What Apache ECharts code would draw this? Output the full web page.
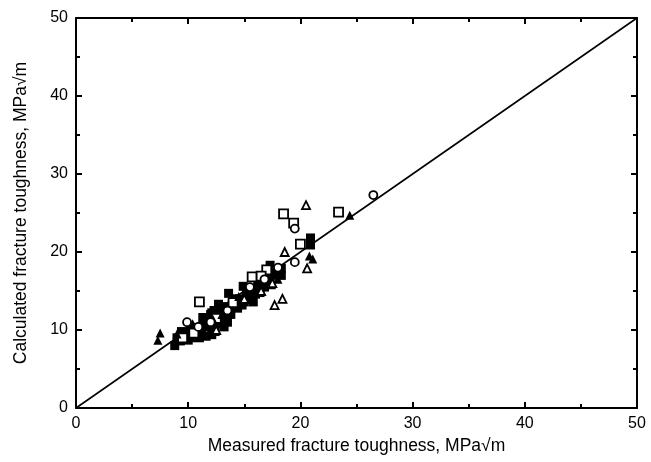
<!DOCTYPE html>
<html><head><meta charset="utf-8">
<script src="https://cdn.jsdelivr.net/npm/echarts@6/dist/echarts.min.js"></script>
<style>html,body{margin:0;padding:0;background:#fff}#c{width:651px;height:462px}</style>
</head><body><div id="c"></div>
<script>
const xTitle = 'Measured fracture toughness, MPa√m';
const yTitle = 'Calculated fracture toughness, MPa√m';
const axisMin = 0, axisMax = 50, axisStep = 10;
const lineX = [0, 50];
const filledSquares = [[8.8,8.0],[9.3,8.6],[9.7,9.4],[10.2,9.0],[10.6,10.3],[11.0,9.0],[11.2,10.0],[11.6,9.2],[11.8,11.0],[12.0,12.0],[12.1,9.4],[12.3,12.5],[12.6,10.8],[12.8,12.2],[13.0,11.5],[13.2,10.4],[13.4,13.0],[13.5,11.0],[13.8,12.0],[13.6,14.7],[14.1,13.3],[14.4,12.8],[14.6,14.0],[15.0,13.6],[15.2,14.8],[15.6,15.2],[15.8,13.6],[16.0,14.6],[16.2,15.8],[16.5,16.3],[16.8,15.5],[17.0,17.4],[17.3,18.3],[17.2,16.2],[17.6,17.0],[18.0,17.2],[18.3,17.9],[18.3,17.0],[20.9,21.8],[20.9,20.9],[10.2,10.0],[9.0,9.0],[12.1,12.2],
  [9.4,9.8],[10.0,8.7],[10.8,9.5],[11.4,11.2],[11.9,10.4],[12.4,9.8],[12.9,11.0],[13.3,11.9],[13.9,13.0],[14.2,14.0],[14.8,13.2],[15.4,14.2],[15.9,15.0],[16.4,14.8],[16.7,16.9],[17.4,15.8],[17.8,17.6],[11.3,11.6],[12.7,13.3],[14.9,15.6],[13.7,12.5]];
const openSquares = [[11.0,13.6],[15.7,16.8],[17.0,17.7],[18.5,24.9],[19.4,23.7],[20.0,21.0],[23.4,25.1],[10.5,9.6],[12.5,11.5],[14.0,13.5],[16.5,16.9],[9.5,9.0]];
const filledTriangles = [[7.3,8.7],[7.5,9.6],[24.4,24.7],[20.8,19.5],[21.1,19.1],[9.0,9.5],[11.5,10.5],[13.0,12.0],[14.5,14.3],[16.0,15.0],[18.0,16.5],[10.4,10.8],[12.2,11.4],[15.3,14.0],[17.1,16.6]];
const openTriangles = [[20.5,26.0],[18.6,20.0],[20.6,17.9],[17.7,13.2],[18.4,14.0],[12.5,10.0],[15.0,14.0],[16.5,15.0],[17.5,16.0]];
const openCircles = [[26.5,27.3],[19.5,23.0],[19.5,18.7],[9.9,11.0],[10.9,10.4],[13.5,12.5],[15.5,15.5],[16.8,16.5],[18.0,18.0],[12.0,11.0]];

const chart = echarts.init(document.getElementById('c'));
const font = 'Liberation Sans, Arial, sans-serif';
function axisBase(show){
  return {
    min: axisMin, max: axisMax, interval: axisStep,
    axisLine:{show:true,onZero:false,lineStyle:{color:'#000',width:2}},
    axisTick:{show:true,inside:true,length:6,lineStyle:{color:'#000',width:2}},
    minorTick:{show:true,splitNumber:2,length:4,lineStyle:{color:'#000',width:2}},
    splitLine:{show:false},
    axisLabel:{show:show,color:'#000',fontSize:16,fontFamily:font}
  };
}
const sym = (name, data, type, filled, size) => ({
  name, type:'scatter', data, symbol:type, symbolSize:size,
  itemStyle:{color: filled ? '#000' : '#fff', borderColor:'#000', borderWidth: filled?0:1.8, opacity:1},
  z:3
});
chart.setOption({
  animation:false,
  backgroundColor:'#fff',
  grid:{left:76,right:14,top:18,bottom:54,containLabel:false},
  xAxis:[
    Object.assign(axisBase(true),{type:'value',position:'bottom',name:xTitle,nameLocation:'middle',nameGap:28,
      nameTextStyle:{color:'#000',fontSize:17.5,fontFamily:font},axisLabel:{color:'#000',fontSize:16,fontFamily:font,margin:8}}),
    Object.assign(axisBase(false),{type:'value',position:'top'})
  ],
  yAxis:[
    Object.assign(axisBase(true),{type:'value',position:'left',name:yTitle,nameLocation:'middle',nameGap:46,
      nameTextStyle:{color:'#000',fontSize:17.5,fontFamily:font},axisLabel:{color:'#000',fontSize:16,fontFamily:font,margin:8}}),
    Object.assign(axisBase(false),{type:'value',position:'right'})
  ],
  series:[
    {type:'line',data:lineX.map(v=>[v,v]),symbol:'none',lineStyle:{color:'#000',width:1.6},z:2},
    sym('filledSquares',filledSquares,'rect',true,9),
    sym('openSquares',openSquares,'rect',false,9),
    sym('filledTriangles',filledTriangles,'triangle',true,9),
    sym('openTriangles',openTriangles,'triangle',false,8),
    sym('openCircles',openCircles,'circle',false,8)
  ]
});
</script></body></html>
